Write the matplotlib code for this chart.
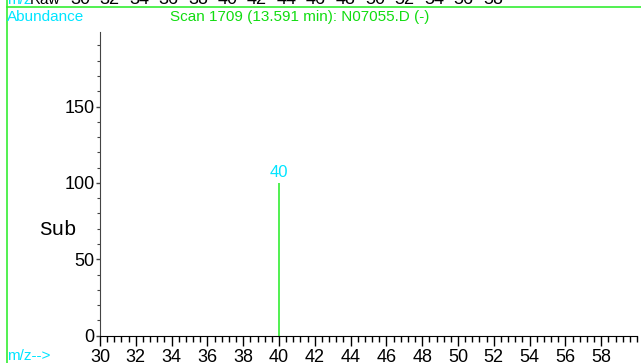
import matplotlib
matplotlib.use("Agg")
import matplotlib.pyplot as plt
from matplotlib.lines import Line2D
from matplotlib.ticker import MultipleLocator

# spectrum data
mz = [40]
abundance = [100]
peak_labels = ["40"]

x_ticks = list(range(30, 60, 2))
y_ticks = [0, 50, 100, 150]
top_labels = [str(v) for v in range(30, 60, 2)]  # cut-off labels of panel above

title = "Scan 1709 (13.591 min): N07055.D (-)"

GREEN = "#33ee33"
CYAN = "#00e5ff"
W, H = 641, 363
FS = 11      # header text
TFS = 13     # tick labels

plt.rcParams['font.family'] = ['Liberation Sans', 'DejaVu Sans']

fig = plt.figure(figsize=(W / 100, H / 100), dpi=100)
ax = fig.add_axes([100 / W, 1 - 335.6 / H, 537 / W, (335.6 - 31.7) / H])

# peaks
ax.vlines(mz, 0, abundance, color=GREEN, lw=1.2)
for x, y, lab in zip(mz, abundance, peak_labels):
    ax.text(x, y + 2, lab, color=CYAN, fontsize=12, ha="center", va="bottom")

ax.set_xlim(30, 60)
ax.set_ylim(0, 199)

for s in ["top", "right"]:
    ax.spines[s].set_visible(False)
ax.spines["left"].set_color("#444444")
ax.spines["bottom"].set_color("black")

ax.set_xticks(x_ticks)
ax.xaxis.set_minor_locator(MultipleLocator(0.4))
ax.set_yticks(y_ticks)
ax.yaxis.set_minor_locator(MultipleLocator(10))
ax.tick_params(axis="x", which="major", length=7, width=1, pad=3, labelsize=TFS)
ax.tick_params(axis="x", which="minor", length=4, width=1)
ax.tick_params(axis="y", which="major", length=3, width=1, pad=1, labelsize=TFS, color="#444444")
ax.tick_params(axis="y", which="minor", length=2, width=0.8, color="#444444")

# labels
fig.text(7 / W, 1 - 17 / H, "Abundance", color=CYAN, fontsize=FS, va="center", ha="left")
fig.text(300 / W, 1 - 17 / H, title, color="#11dd11", fontsize=FS, va="center", ha="center")
fig.text(7 / W, 1 - 356 / H, "m/z-->", color=CYAN, fontsize=FS, va="center", ha="left")
fig.text(58 / W, 1 - 229 / H, "Sub", family="Liberation Mono", fontsize=15, va="center", ha="center")

# fragments of the panel above
fig.text(7 / W, 1 - 4 / H, "m/z", color=CYAN, fontsize=FS, va="baseline", ha="left")
fig.text(30 / W, 1 - 4 / H, "Raw", color="black", fontsize=FS, va="baseline", ha="left")
for i, lab in enumerate(top_labels):
    fig.text((80 + 29.5 * i) / W, 1 - 4 / H, lab, fontsize=TFS, va="baseline", ha="center")

# green frame lines
fig.add_artist(Line2D([7 / W, 7 / W], [0, 1], color=GREEN, lw=1.2, transform=fig.transFigure))
fig.add_artist(Line2D([7 / W, 1], [1 - 7 / H, 1 - 7 / H], color=GREEN, lw=1.2, transform=fig.transFigure))

fig.savefig("out.png", dpi=100)
